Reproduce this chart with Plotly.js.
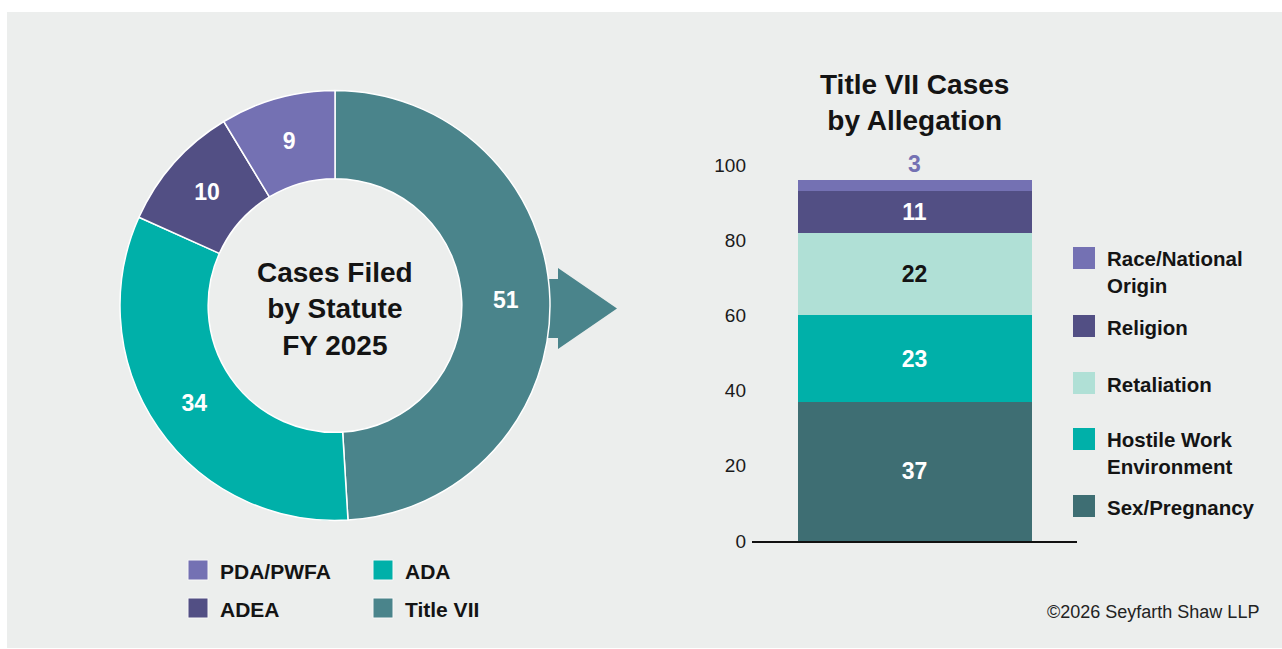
<!DOCTYPE html>
<html>
<head>
<meta charset="utf-8">
<script src="https://cdn.plot.ly/plotly-3.0.1.min.js"></script>
<style>
  html, body { margin: 0; padding: 0; background: #ffffff; }
  #chart { width: 1282px; height: 649px; }
</style>
</head>
<body>
<div id="chart"></div>
<script>
// ---- Data ----
const statutes = ['Title VII', 'ADA', 'ADEA', 'PDA/PWFA'];
const statuteCounts = [51, 34, 10, 9];
const statuteColors = ['#4a848b', '#00b0a9', '#524f84', '#7471b3'];

const allegations = ['Sex/Pregnancy', 'Hostile Work Environment', 'Retaliation', 'Religion', 'Race/National Origin'];
const allegationCounts = [37, 23, 22, 11, 3];
const allegationColors = ['#3e6e73', '#00b0a9', '#b0e0d6', '#524f84', '#7471b3'];
const allegationLegendLabels = ['Sex/Pregnancy', 'Hostile Work<br>Environment', 'Retaliation', 'Religion', 'Race/National<br>Origin'];

const yTicks = [0, 20, 40, 60, 80, 100];

const donutTitle = 'Cases Filed<br>by Statute<br>FY 2025';
const barTitle = 'Title VII Cases<br>by Allegation';
const copyright = '\u00a92026 Seyfarth Shaw LLP';

// ---- Helpers (pixel -> paper) ----
const W = 1282, H = 649;
const fx = x => x / W;
const fy = y => 1 - y / H;
const FONT = 'Liberation Sans, Arial, sans-serif';
const INK = '#141414';

// ---- Traces ----
const traces = [];
traces.push({
  type: 'pie',
  labels: statutes,
  values: statuteCounts,
  sort: false,
  direction: 'clockwise',
  rotation: 0,
  hole: 0.59,
  marker: { colors: statuteColors, line: { color: '#ffffff', width: 1.5 } },
  textinfo: 'value',
  textposition: 'inside',
  insidetextorientation: 'horizontal',
  textfont: { family: FONT, size: 23, color: '#ffffff', weight: 700 },
  domain: { x: [fx(120), fx(550)], y: [fy(520.5), fy(90.5)] },
  hoverinfo: 'label+value',
  showlegend: false
});

allegations.forEach((name, i) => {
  const last = i === allegations.length - 1;
  traces.push({
    type: 'bar',
    x: ['Title VII'],
    y: [allegationCounts[i]],
    name: name,
    width: 0.72,
    marker: { color: allegationColors[i], line: { width: 0 } },
    text: [String(allegationCounts[i])],
    textposition: last ? 'outside' : 'inside',
    insidetextanchor: 'middle',
    insidetextfont: { family: FONT, size: 23, weight: 700, color: name === 'Retaliation' ? '#141414' : '#ffffff' },
    outsidetextfont: { family: FONT, size: 23, weight: 700, color: allegationColors[i] },
    cliponaxis: false,
    hoverinfo: 'name+y',
    showlegend: false
  });
});

// ---- Shapes & annotations ----
const shapes = [];
const annotations = [];

// background panel
shapes.push({ type: 'rect', xref: 'paper', yref: 'paper', layer: 'below',
  x0: fx(7), x1: fx(1282), y0: fy(648), y1: fy(12),
  fillcolor: '#eceeed', line: { width: 0 } });

// arrow from Title VII slice
const arrowPts = [[540, 279], [558, 279], [558, 268], [617, 308.5], [558, 349], [558, 338], [540, 338]];
shapes.push({ type: 'path', xref: 'paper', yref: 'paper', layer: 'below',
  path: 'M ' + arrowPts.map(p => fx(p[0]) + ',' + fy(p[1])).join(' L ') + ' Z',
  fillcolor: statuteColors[0], line: { width: 0 } });

// donut center title
annotations.push({ xref: 'paper', yref: 'paper', x: fx(335), y: fy(309), xanchor: 'center', yanchor: 'middle',
  text: donutTitle, showarrow: false, align: 'center',
  font: { family: FONT, size: 28, color: INK, weight: 700 } });

// bar title
annotations.push({ xref: 'paper', yref: 'paper', x: fx(914), y: fy(103), xanchor: 'center', yanchor: 'middle',
  text: barTitle, showarrow: false, align: 'center',
  font: { family: FONT, size: 28, color: INK, weight: 700 } });

// bottom donut legend (2 columns)
const donutLegendOrder = ['PDA/PWFA', 'ADA', 'ADEA', 'Title VII'];
const colX = [188, 373];
const rowY = [570, 608];
donutLegendOrder.forEach((lab, k) => {
  const idx = statutes.indexOf(lab);
  const cx = colX[k % 2], cy = rowY[Math.floor(k / 2)];
  shapes.push({ type: 'rect', xref: 'paper', yref: 'paper',
    x0: fx(cx), x1: fx(cx + 20), y0: fy(cy + 10), y1: fy(cy - 10),
    fillcolor: statuteColors[idx], line: { color: '#f7f7f7', width: 1 } });
  annotations.push({ xref: 'paper', yref: 'paper', x: fx(cx + 30), y: fy(cy + 1), xanchor: 'left', yanchor: 'middle',
    text: lab, showarrow: false, align: 'left',
    font: { family: FONT, size: 21, color: INK, weight: 700 } });
});

// right bar legend (top to bottom: reverse stack order)
const legSwatchY = [506, 439, 383, 326, 258];
const legTextY = [507, 453, 384, 327, 272];
allegations.forEach((name, i) => {
  const sy = legSwatchY[i];
  shapes.push({ type: 'rect', xref: 'paper', yref: 'paper',
    x0: fx(1073), x1: fx(1095), y0: fy(sy + 11), y1: fy(sy - 11),
    fillcolor: allegationColors[i], line: { width: 0 } });
  annotations.push({ xref: 'paper', yref: 'paper', x: fx(1105), y: fy(legTextY[i]), xanchor: 'left', yanchor: 'middle',
    text: allegationLegendLabels[i], showarrow: false, align: 'left',
    font: { family: FONT, size: 20.5, color: INK, weight: 700 } });
});

// copyright
annotations.push({ xref: 'paper', yref: 'paper', x: fx(1261), y: fy(612), xanchor: 'right', yanchor: 'middle',
  text: copyright, showarrow: false,
  font: { family: FONT, size: 18, color: '#222222' } });

const layout = {
  width: W, height: H,
  margin: { l: 0, r: 0, t: 0, b: 0 },
  paper_bgcolor: '#ffffff',
  plot_bgcolor: 'rgba(0,0,0,0)',
  barmode: 'stack',
  showlegend: false,
  font: { family: FONT, color: INK },
  xaxis: {
    domain: [fx(752), fx(1077)],
    type: 'category',
    range: [-0.5, 0.5],
    showline: true, linecolor: '#111111', linewidth: 1.5,
    showticklabels: false, ticks: '', showgrid: false, zeroline: false, fixedrange: true
  },
  yaxis: {
    domain: [fy(541), fy(165)],
    range: [0, 100],
    tickmode: 'array', tickvals: yTicks, ticktext: yTicks.map(String),
    ticks: '', showgrid: false, zeroline: false, showline: false,
    tickfont: { family: FONT, size: 19, color: '#1a1a1a' },
    ticklabelstandoff: 5, fixedrange: true
  },
  shapes: shapes,
  annotations: annotations
};

Plotly.newPlot('chart', traces, layout, { displayModeBar: false, staticPlot: false });
</script>
</body>
</html>
